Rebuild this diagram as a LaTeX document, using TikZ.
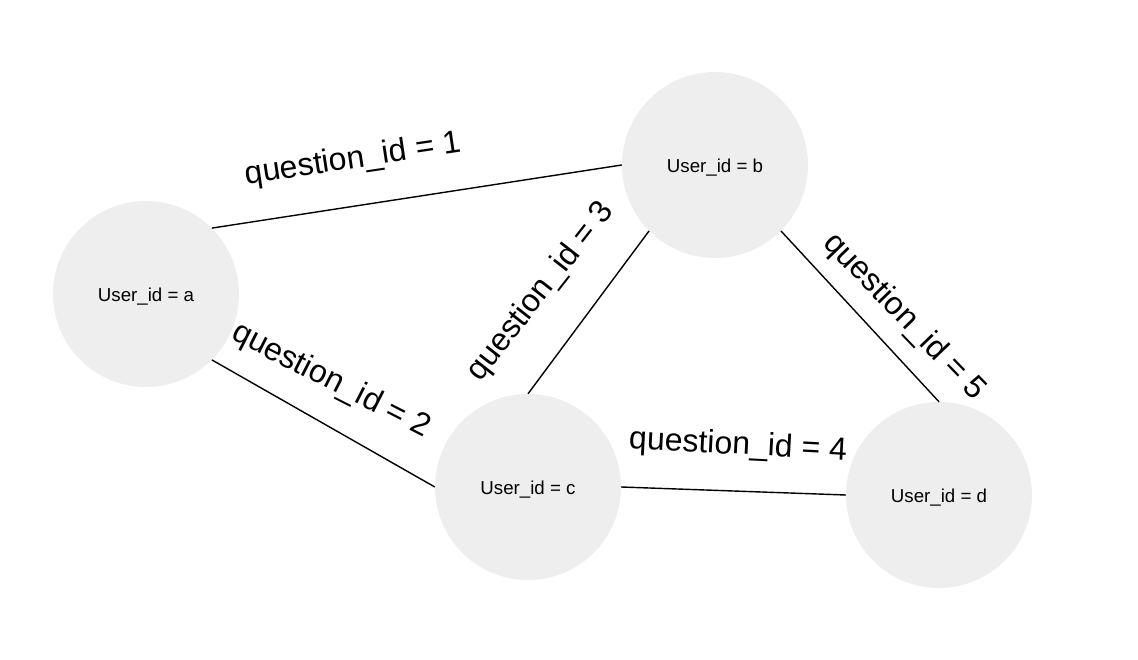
\documentclass[tikz,border=0pt]{standalone}
\usepackage{fontspec}
\setmainfont{Liberation Sans}
\definecolor{nodegray}{HTML}{EEEEEE}
\begin{document}
\begin{tikzpicture}[x=1pt,y=-1pt,
  user/.style={circle,fill=nodegray,draw=none,minimum size=186pt,inner sep=0pt,
    text height=19pt,text depth=4pt,
    font=\fontsize{18.7}{22}\selectfont},
  qlabel/.style={inner sep=0pt,font=\fontsize{32}{38}\selectfont},
  link/.style={line width=1.4pt,black}]
\useasboundingbox (0,0) rectangle (1138,660);
\node[user] (a) at (146,294) {User\_id = a};
\node[user] (b) at (715,165) {User\_id = b};
\node[user] (c) at (528,487) {User\_id = c};
\node[user] (d) at (939,495) {User\_id = d};
\draw[link] (a.45) -- (b.180);
\draw[link] (a.-45) -- (c.180);
\draw[link] (b.225) -- (c.90);
\draw[link] (b.-45) -- (d.90);
\draw[link] (c.0) -- (d.180);
\node[qlabel,rotate=8.5] (l1) at (353,160) {question\_id = 1};
\node[qlabel,rotate=-27] (l2) at (331,381) {question\_id = 2};
\node[qlabel,rotate=52] (l3) at (541,292) {question\_id = 3};
\node[qlabel,rotate=-3] (l4) at (738,446) {question\_id = 4};
\node[qlabel,rotate=-46] (l5) at (904,317) {question\_id = 5};
\end{tikzpicture}
\end{document}
